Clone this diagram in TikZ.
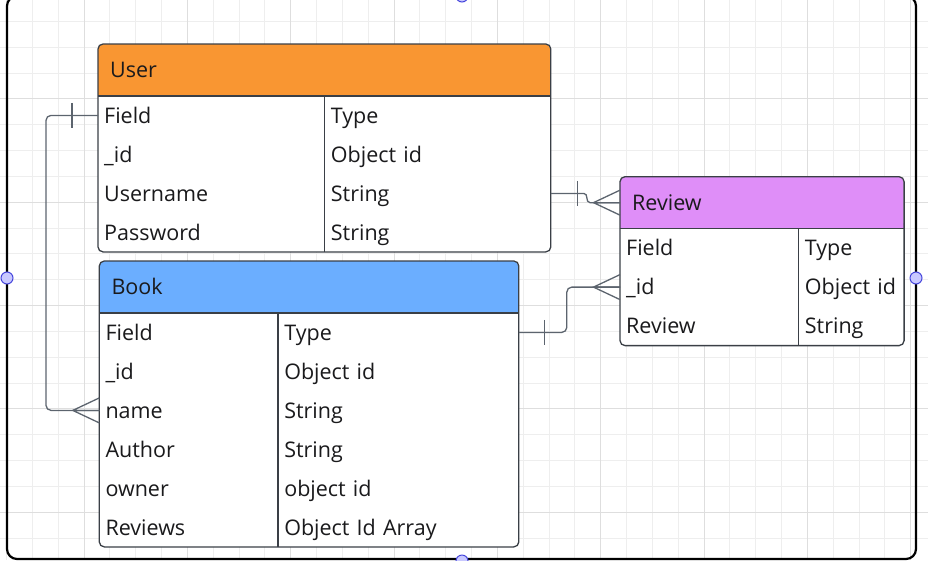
\documentclass[tikz,border=0pt]{standalone}
\usepackage{fontspec}
\setmainfont{Open Sans}
\usetikzlibrary{positioning}
\definecolor{userhd}{RGB}{249,150,50}
\definecolor{bookhd}{RGB}{107,174,255}
\definecolor{revhd}{RGB}{223,142,248}
\definecolor{rimcol}{RGB}{58,63,70}
\definecolor{wire}{RGB}{92,100,110}
\definecolor{ink}{RGB}{26,26,28}
\definecolor{gridlo}{RGB}{238,238,238}
\definecolor{gridhi}{RGB}{222,222,222}
\definecolor{handle}{RGB}{200,200,255}
\definecolor{handleline}{RGB}{70,70,220}
\pgfdeclarelayer{back}
\pgfsetlayers{back,main}
\begin{document}
\begin{tikzpicture}[x=1pt,y=-1pt,
	every node/.style={font=\fontsize{21.5}{26}\selectfont,text=ink},
	head/.style={anchor=north west,minimum height=51.5pt,inner xsep=12pt,inner ysep=0pt,
		text height=15.4pt,text depth=0pt,align=left,rounded corners=5pt},
	cell/.style={anchor=north west,minimum height=38.6pt,inner xsep=6pt,inner ysep=0pt,
		text height=15.4pt,text depth=0pt,align=left},
	rim/.style={draw=rimcol,line width=1.3pt},
	link/.style={draw=wire,line width=1.3pt,rounded corners=5pt},
	pics/crowfoot/.style={code={\draw[link,sharp corners] (0,-12.5) -- (-26.5,0) -- (0,12.5) (-26.5,0) -- (0,0);}},
	pics/onebar/.style={code={\draw[link] (0,-12.5) -- (0,12.5);}}]
\useasboundingbox (0,0) rectangle (928,560);
\begin{pgfonlayer}{back}
\begin{scope}
\clip (0,0) rectangle (928,560);
\foreach \k in {0,...,35} \draw[gridlo,line width=1pt] ({6.6+25.83*\k},0) -- ++(0,560);
\foreach \k in {-1,...,20} \draw[gridlo,line width=1pt] (0,{21.5+25.83*\k}) -- ++(928,0);
\foreach \k in {3,7,...,35} \draw[gridhi,line width=1pt] ({6.6+25.83*\k},0) -- ++(0,560);
\foreach \k in {-1,3,...,19} \draw[gridhi,line width=1pt] (0,{21.5+25.83*\k}) -- ++(928,0);
\end{scope}
\end{pgfonlayer}
\draw[black,line width=2.2pt,rounded corners=10pt] (7,-4) rectangle (916,559);
\foreach \p in {(462,-4),(7,278),(916,278),(462,561)}
	\draw[handleline,fill=handle,line width=1pt] \p circle (6pt);

\node[head,fill=userhd,text width=428pt,alias=uf0] (user) at (98,44) {User};
\fill[userhd] (user.south west) rectangle ([yshift=6pt]user.south east);
\foreach \f/\t [count=\i,remember=\i as \j (initially 0)] in {Field/Type,\_id/Object id,Username/String,Password/String}{
	\node[cell,text width=214.3pt] (uf\i) at (uf\j.south west) {\f};
	\node[cell,text width=213.7pt,right=0pt of uf\i] (ut\i) {\t};
}
\draw[rim,rounded corners=5pt] (user.north west) rectangle (ut4.south east);
\draw[rim] (user.south west) -- (user.south east) (ut1.north west) -- (ut4.south west);

\node[head,fill=bookhd,text width=394.7pt,alias=bf0] (book) at (99.3,261) {Book};
\fill[bookhd] (book.south west) rectangle ([yshift=6pt]book.south east);
\foreach \f/\t [count=\i,remember=\i as \j (initially 0)] in {Field/Type,\_id/Object id,name/String,Author/String,owner/object id,Reviews/Object Id Array}{
	\node[cell,text width=166.4pt] (bf\i) at (bf\j.south west) {\f};
	\node[cell,text width=228.3pt,right=0pt of bf\i] (bt\i) {\t};
}
\draw[rim,rounded corners=5pt] (book.north west) rectangle (bt6.south east);
\draw[rim] (book.south west) -- (book.south east) (bt1.north west) -- (bt6.south west);

\node[head,fill=revhd,text width=259.3pt,alias=rf0] (review) at (620,176.7) {Review};
\fill[revhd] (review.south west) rectangle ([yshift=6pt]review.south east);
\foreach \f/\t [count=\i,remember=\i as \j (initially 0)] in {Field/Type,\_id/Object id,Review/String}{
	\node[cell,text width=166.3pt] (rf\i) at (rf\j.south west) {\f};
	\node[cell,text width=93pt,right=0pt of rf\i] (rt\i) {\t};
}
\draw[rim,rounded corners=5pt] (review.north west) rectangle (rt3.south east);
\draw[rim] (review.south west) -- (review.south east) (rt1.north west) -- (rt3.south west);

\begin{pgfonlayer}{back}
\fill[white,rounded corners=5pt] (user.north west) rectangle (ut4.south east);
\fill[white,rounded corners=5pt] (book.north west) rectangle (bt6.south east);
\fill[white,rounded corners=5pt] (review.north west) rectangle (rt3.south east);
\end{pgfonlayer}

\draw[link] (uf1.west) -- ++(-52,0) |- (bf3.west);
\draw[link,sharp corners] (ut3.east) -- ++(33,0) .. controls +(5,0) and +(-5,0) .. ([xshift=-30pt]review.west) -- (review.west);
\draw[link] (bt1.east) -- ++(48,0) |- (rf2.west);
\pic at (bf3.west) {crowfoot};
\pic at (review.west) {crowfoot};
\pic at (rf2.west) {crowfoot};
\pic at ([xshift=-26pt]uf1.west) {onebar};
\pic at ([xshift=27pt]ut3.east) {onebar};
\pic at ([xshift=26pt]bt1.east) {onebar};
\end{tikzpicture}
\end{document}
